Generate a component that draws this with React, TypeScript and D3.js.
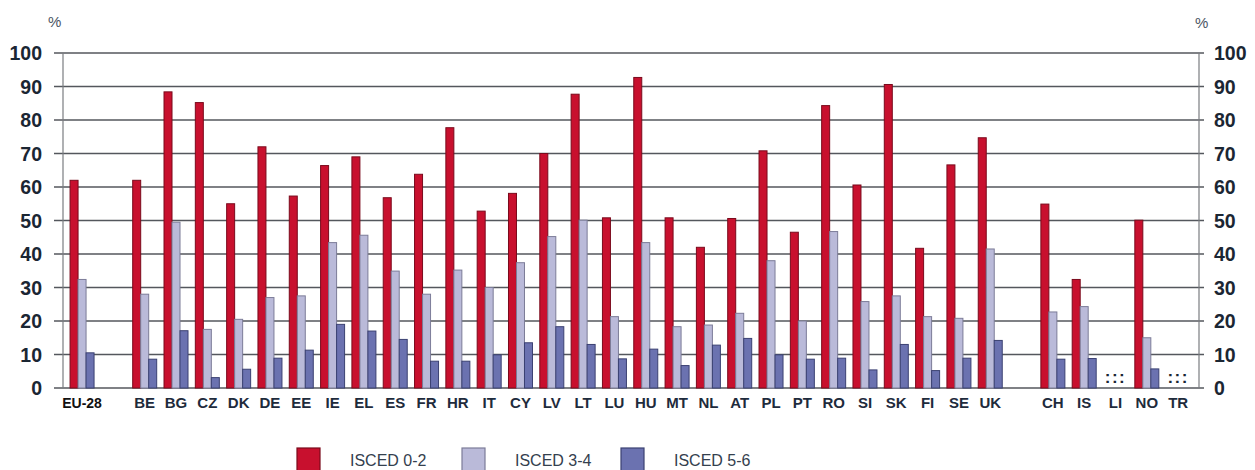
import React, { useEffect, useRef } from 'react';
import * as d3 from 'd3';

const countries = ['EU-28', 'BE', 'BG', 'CZ', 'DK', 'DE', 'EE', 'IE', 'EL', 'ES', 'FR', 'HR', 'IT', 'CY', 'LV', 'LT', 'LU', 'HU', 'MT', 'NL', 'AT', 'PL', 'PT', 'RO', 'SI', 'SK', 'FI', 'SE', 'UK', 'CH', 'IS', 'LI', 'NO', 'TR'];
// slots on the x axis, with two empty gaps
const slots = ['EU-28', 'gap1', 'BE', 'BG', 'CZ', 'DK', 'DE', 'EE', 'IE', 'EL', 'ES', 'FR', 'HR', 'IT', 'CY', 'LV', 'LT', 'LU', 'HU', 'MT', 'NL', 'AT', 'PL', 'PT', 'RO', 'SI', 'SK', 'FI', 'SE', 'UK', 'gap2', 'CH', 'IS', 'LI', 'NO', 'TR'];

const isced02 = [62, 62, 88.4, 85.2, 55, 72, 57.3, 66.4, 69, 56.8, 63.8, 77.7, 52.8, 58.1, 70, 87.7, 50.8, 92.7, 50.8, 42, 50.6, 70.8, 46.5, 84.3, 60.6, 90.6, 41.7, 66.6, 74.7, 54.9, 32.4, null, 50.1, null];
const isced34 = [32.4, 28, 49.5, 17.5, 20.5, 27, 27.5, 43.4, 45.6, 34.9, 28, 35.2, 30, 37.4, 45.2, 50.1, 21.3, 43.4, 18.3, 18.8, 22.3, 38, 20, 46.7, 25.8, 27.5, 21.3, 20.8, 41.5, 22.7, 24.3, null, 15, null];
const isced56 = [10.5, 8.6, 17.1, 3.1, 5.6, 8.9, 11.3, 19, 17, 14.5, 8, 8, 9.9, 13.5, 18.3, 13, 8.7, 11.6, 6.7, 12.8, 14.8, 9.9, 8.6, 8.9, 5.4, 13, 5.2, 8.9, 14.2, 8.6, 8.8, null, 5.7, null];

const seriesNames = ['ISCED 0-2', 'ISCED 3-4', 'ISCED 5-6'];
const seriesValues = [isced02, isced34, isced56];
const fills = ['#c8102e', '#babad9', '#6b72b0'];
const strokes = ['#7a0a1c', '#7c7c98', '#3b4172'];
const yTicks = [0, 10, 20, 30, 40, 50, 60, 70, 80, 90, 100];

export default function App() {
  const ref = useRef<SVGSVGElement>(null);

  useEffect(() => {
    const svg = d3.select(ref.current);
    svg.selectAll('*').remove();

    const left = 63, right = 1199, top = 53, bottom = 388;

    const x = d3.scaleBand().domain(slots).range([66.4, 1193.8]);
    const x1 = d3.scaleBand().domain(seriesNames).range([0, 24]);
    const y = d3.scaleLinear().domain([0, 100]).range([bottom, top]);

    // gridlines
    svg.append('g')
      .selectAll('line')
      .data(yTicks)
      .enter()
      .append('line')
      .attr('x1', left - 9)
      .attr('x2', right + 5)
      .attr('y1', d => y(d))
      .attr('y2', d => y(d))
      .attr('stroke', '#54575d')
      .attr('stroke-width', 1.4);

    svg.append('line')
      .attr('x1', left).attr('x2', left)
      .attr('y1', top).attr('y2', bottom)
      .attr('stroke', '#7a7c80').attr('stroke-width', 1.2);
    svg.append('line')
      .attr('x1', right).attr('x2', right)
      .attr('y1', top).attr('y2', bottom)
      .attr('stroke', '#7a7c80').attr('stroke-width', 1.2);

    // tick labels
    const tickStyle = (sel: any) => sel
      .style('font-family', '"Liberation Sans", Arial, sans-serif')
      .style('font-weight', 'bold')
      .style('font-size', '19.5px')
      .attr('fill', '#1b2633');

    svg.append('g').selectAll('text').data(yTicks).enter().append('text')
      .attr('x', 42).attr('y', d => y(d) + 7)
      .attr('text-anchor', 'end')
      .text(d => d)
      .call(tickStyle);
    svg.append('g').selectAll('text').data(yTicks).enter().append('text')
      .attr('x', 1214).attr('y', d => y(d) + 7)
      .attr('text-anchor', 'start')
      .text(d => d)
      .call(tickStyle);

    svg.append('text').attr('x', 48).attr('y', 27).text('%')
      .style('font-family', '"Liberation Sans", Arial, sans-serif').style('font-size', '15px').attr('fill', '#4a5664');
    svg.append('text').attr('x', 1195).attr('y', 28).text('%')
      .style('font-family', '"Liberation Sans", Arial, sans-serif').style('font-size', '15px').attr('fill', '#4a5664');

    // bars
    const groups = svg.append('g').selectAll('g')
      .data(countries)
      .enter()
      .append('g')
      .attr('transform', d => `translate(${(x(d) as number) + x.bandwidth() / 2 - 12}, 0)`);

    seriesNames.forEach((s, si) => {
      groups.filter((_, i) => seriesValues[si][i] != null)
        .append('rect')
        .attr('x', x1(s) as number)
        .attr('width', x1.bandwidth())
        .attr('y', (_, i, nodes) => {
          const c = d3.select(nodes[i].parentNode as any).datum() as string;
          return y(seriesValues[si][countries.indexOf(c)] as number);
        })
        .attr('height', (_, i, nodes) => {
          const c = d3.select(nodes[i].parentNode as any).datum() as string;
          return bottom - y(seriesValues[si][countries.indexOf(c)] as number);
        })
        .attr('fill', fills[si])
        .attr('stroke', strokes[si])
        .attr('stroke-width', 1);
    });

    // not available markers
    groups.filter((_, i) => isced02[i] == null)
      .append('text')
      .attr('x', 12)
      .attr('y', bottom - 5)
      .attr('text-anchor', 'middle')
      .style('font-family', '"Liberation Sans", Arial, sans-serif')
      .style('font-weight', 'bold')
      .style('font-size', '17px')
      .style('letter-spacing', '1.5px')
      .attr('fill', '#1b2633')
      .text(':::');

    // category labels
    svg.append('g').selectAll('text')
      .data(countries)
      .enter()
      .append('text')
      .attr('x', d => (x(d) as number) + x.bandwidth() / 2)
      .attr('y', 408)
      .attr('text-anchor', 'middle')
      .style('font-family', '"Liberation Sans", Arial, sans-serif')
      .style('font-weight', 'bold')
      .style('font-size', d => (d === 'EU-28' ? '14px' : '15px'))
      .attr('fill', d => (d === 'EU-28' ? '#111' : '#1e2b3c'))
      .text(d => d);

    // legend
    const legendX = [297, 462, 621];
    const legend = svg.append('g').selectAll('g')
      .data(seriesNames)
      .enter()
      .append('g')
      .attr('transform', (_, i) => `translate(${legendX[i]}, 448)`);
    legend.append('rect')
      .attr('width', 23).attr('height', 24)
      .attr('fill', (_, i) => fills[i])
      .attr('stroke', (_, i) => strokes[i])
      .attr('stroke-width', 1.2);
    legend.append('text')
      .attr('x', 53).attr('y', 18)
      .style('font-family', '"Liberation Sans", Arial, sans-serif')
      .style('font-size', '16px')
      .attr('fill', '#34404e')
      .text(d => d);
  }, []);

  return (
    <svg ref={ref} width={1255} height={470}
      style={{ position: 'absolute', left: 0, top: 0, background: '#fff' }} />
  );
}
